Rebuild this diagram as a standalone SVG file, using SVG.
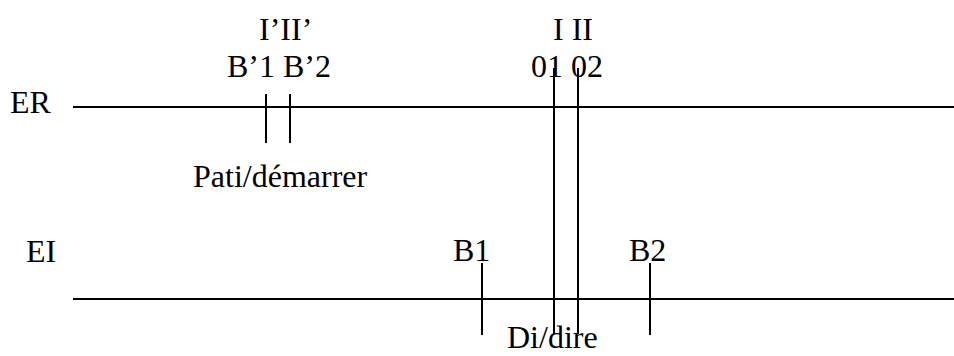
<svg xmlns="http://www.w3.org/2000/svg" width="954" height="356" viewBox="0 0 954 356">
<style>
text{font-family:"Liberation Serif","Times New Roman",serif;font-size:32px;fill:#000}
line{stroke:#000;stroke-width:2}
</style>
<rect width="954" height="356" fill="#fff"/>
<g id="labels">
<text x="10" y="113">ER</text>
<text x="26" y="262">EI</text>
<text x="259" y="40">I’II’</text>
<text x="227" y="77">B’1 B’2</text>
<text x="553" y="40">I II</text>
<text x="531" y="77">01 02</text>
<text x="193" y="187">Pati/démarrer</text>
<text x="453" y="261">B1</text>
<text x="629" y="261">B2</text>
<text x="507" y="348">Di/dire</text>
</g>
<g id="connectors">
<line id="ER-line" x1="73" y1="107" x2="954" y2="107"/>
<line id="EI-line" x1="73" y1="299" x2="954" y2="299"/>
<line x1="266" y1="94" x2="266" y2="143"/>
<line x1="290" y1="94" x2="290" y2="143"/>
<line x1="554" y1="68" x2="554" y2="334"/>
<line x1="578" y1="68" x2="578" y2="334"/>
<line x1="482" y1="263" x2="482" y2="335"/>
<line x1="650" y1="263" x2="650" y2="335"/>
</g>
</svg>
